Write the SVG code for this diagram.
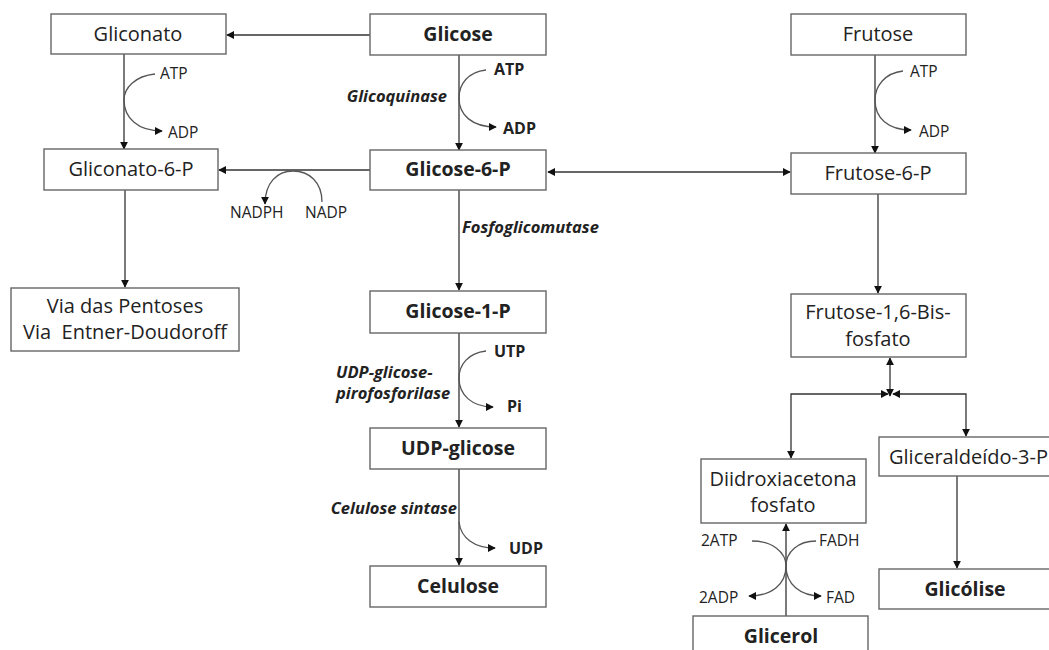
<svg xmlns="http://www.w3.org/2000/svg" width="1049" height="650" viewBox="0 0 1049 650">
<style>
.box{fill:#fff;stroke:#666;stroke-width:1.4}
.t{font-family:"Open Sans","Liberation Sans",sans-serif;font-size:20px;fill:#222;text-anchor:middle}
.b{font-weight:bold;font-size:19.5px}
.s{font-family:"Open Sans","Liberation Sans",sans-serif;font-size:15.5px;fill:#222}
.sb{font-weight:bold;font-size:16px}
.e{font-family:"Open Sans","Liberation Sans",sans-serif;font-size:16.5px;font-weight:bold;font-style:italic;fill:#222}
.ln{fill:none;stroke:#333;stroke-width:1.3}
.cv{fill:none;stroke:#555;stroke-width:1.3}
</style>
<defs>
<marker id="ah" viewBox="0 0 10 10" refX="9" refY="5" markerWidth="8" markerHeight="8" markerUnits="userSpaceOnUse" orient="auto-start-reverse">
<path d="M0,0 L10,5 L0,10 z" fill="#111"/>
</marker>
</defs>
<g id="connectors">
<path class="ln" d="M370,35 L227,35" marker-end="url(#ah)"/>
<path class="ln" d="M124,54 L124,149" marker-end="url(#ah)"/>
<path class="cv" d="M155,74 C135,76 124,88 124,100 C124,118 138,131 162,131" marker-end="url(#ah)"/>
<path class="ln" d="M459,55 L459,150" marker-end="url(#ah)"/>
<path class="cv" d="M486,70 C468,72 459,84 459,98 C459,115 472,127 496,127" marker-end="url(#ah)"/>
<path class="ln" d="M875,55 L875,153" marker-end="url(#ah)"/>
<path class="cv" d="M903,71 C885,73 875,86 875,100 C875,118 888,130 911,130" marker-end="url(#ah)"/>
<path class="ln" d="M370,170 L219,170" marker-end="url(#ah)"/>
<path class="cv" d="M322,202 C322,182 309,171 293,171 C277,171 265,183 265,204" marker-end="url(#ah)"/>
<path class="ln" d="M548,172 L790,172" marker-start="url(#ah)" marker-end="url(#ah)"/>
<path class="ln" d="M459,190 L459,290" marker-end="url(#ah)"/>
<path class="ln" d="M125,190 L125,287" marker-end="url(#ah)"/>
<path class="ln" d="M459,333 L459,427" marker-end="url(#ah)"/>
<path class="cv" d="M486,351 C468,353 459,365 459,378 C459,395 472,407 493,407" marker-end="url(#ah)"/>
<path class="ln" d="M459,469 L459,565" marker-end="url(#ah)"/>
<path class="cv" d="M459,522 C461,538 474,548 495,548" marker-end="url(#ah)"/>
<path class="ln" d="M878,194 L878,293" marker-end="url(#ah)"/>
<path class="ln" d="M890,358 L890,396" marker-start="url(#ah)" marker-end="url(#ah)"/>
<path class="ln" d="M791,458 L791,394 L888,394" marker-start="url(#ah)" marker-end="url(#ah)"/>
<path class="ln" d="M966,436 L966,394 L893,394" marker-start="url(#ah)" marker-end="url(#ah)"/>
<path class="ln" d="M957,476 L957,568" marker-end="url(#ah)"/>
<path class="ln" d="M786,616 L786,524" marker-end="url(#ah)"/>
<path class="cv" d="M752,541 C772,541 786,552 786,566 C786,584 772,596 749,596" marker-end="url(#ah)"/>
<path class="cv" d="M816,541 C798,541 786,552 786,566 C786,584 800,596 821,596" marker-end="url(#ah)"/>
</g>
<g id="gliconato"><rect class="box" x="51" y="14" width="175" height="40"/><text class="t" x="138" y="41">Gliconato</text></g>
<g id="glicose"><rect class="box" x="370" y="14" width="176" height="41"/><text class="t b" x="458" y="41">Glicose</text></g>
<g id="frutose"><rect class="box" x="791" y="14" width="175" height="41"/><text class="t" x="878" y="41">Frutose</text></g>
<g id="gliconato6p"><rect class="box" x="44" y="149" width="174" height="41"/><text class="t" x="131" y="176">Gliconato-6-P</text></g>
<g id="glicose6p"><rect class="box" x="370" y="150" width="176" height="40"/><text class="t b" x="458" y="176">Glicose-6-P</text></g>
<g id="frutose6p"><rect class="box" x="791" y="153" width="175" height="41"/><text class="t" x="878" y="180">Frutose-6-P</text></g>
<g id="via"><rect class="box" x="11" y="288" width="228" height="63"/><text class="t" x="125" y="313">Via das Pentoses</text><text class="t" x="125" y="339" xml:space="preserve">Via  Entner-Doudoroff</text></g>
<g id="glicose1p"><rect class="box" x="370" y="291" width="176" height="42"/><text class="t b" x="458" y="318">Glicose-1-P</text></g>
<g id="udpglicose"><rect class="box" x="370" y="428" width="176" height="41"/><text class="t b" x="458" y="455">UDP-glicose</text></g>
<g id="celulose"><rect class="box" x="370" y="566" width="176" height="41"/><text class="t b" x="458" y="593">Celulose</text></g>
<g id="frutose16bp"><rect class="box" x="791" y="294" width="175" height="63"/><text class="t" x="878" y="319">Frutose-1,6-Bis-</text><text class="t" x="878" y="346">fosfato</text></g>
<g id="gliceraldeido"><rect class="box" x="879" y="437" width="180" height="39"/><text class="t" x="889" y="464" style="text-anchor:start">Gliceraldeído-3-P</text></g>
<g id="diidroxiacetona"><rect class="box" x="701" y="459" width="165" height="64"/><text class="t" x="783" y="486">Diidroxiacetona</text><text class="t" x="783" y="512">fosfato</text></g>
<g id="glicolise"><rect class="box" x="879" y="569" width="180" height="40"/><text class="t b" x="965" y="596">Glicólise</text></g>
<g id="glicerol"><rect class="box" x="693" y="616" width="175" height="50"/><text class="t b" x="781" y="643">Glicerol</text></g>
<g id="labels">
<text class="s" x="160" y="79">ATP</text>
<text class="s" x="168" y="138">ADP</text>
<text class="s sb" x="494" y="75">ATP</text>
<text class="s sb" x="503" y="134">ADP</text>
<text class="e" x="447" y="102" style="text-anchor:end">Glicoquinase</text>
<text class="s" x="910" y="77">ATP</text>
<text class="s" x="919" y="137">ADP</text>
<text class="s" x="230" y="218">NADPH</text>
<text class="s" x="305" y="218">NADP</text>
<text class="e" x="462" y="233">Fosfoglicomutase</text>
<text class="s sb" x="494" y="357">UTP</text>
<text class="s sb" x="507" y="412">Pi</text>
<text class="e" x="336" y="378">UDP-glicose-</text>
<text class="e" x="336" y="399">pirofosforilase</text>
<text class="e" x="457" y="514" style="text-anchor:end">Celulose sintase</text>
<text class="s sb" x="509" y="554">UDP</text>
<text class="s" x="701" y="546">2ATP</text>
<text class="s" x="819" y="546">FADH</text>
<text class="s" x="699" y="603">2ADP</text>
<text class="s" x="826" y="603">FAD</text>
</g>
</svg>
